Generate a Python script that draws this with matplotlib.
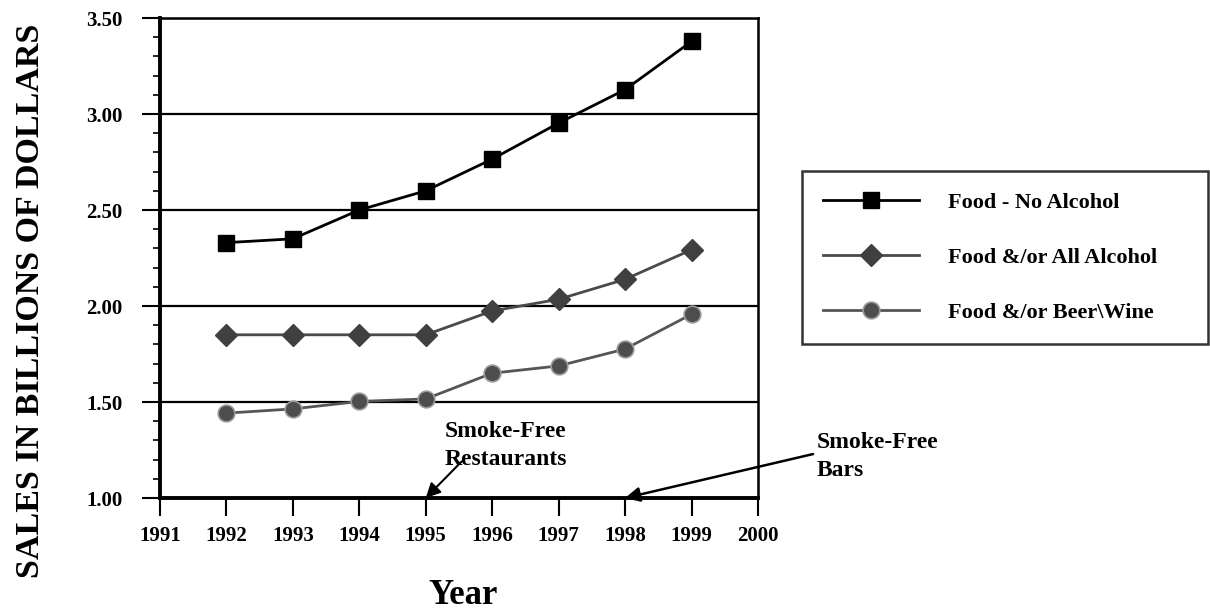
import numpy as np
import matplotlib
matplotlib.use("Agg")
import matplotlib.pyplot as plt
from matplotlib.ticker import MultipleLocator

plt.rcParams['font.family'] = ['Liberation Serif', 'DejaVu Serif']
plt.rcParams['font.weight'] = 'bold'

years = [1992, 1993, 1994, 1995, 1996, 1997, 1998, 1999]
no_alcohol = [2.33, 2.35, 2.50, 2.60, 2.765, 2.953, 3.127, 3.378]
all_alcohol = [1.85, 1.85, 1.85, 1.85, 1.974, 2.035, 2.139, 2.293]
beer_wine = [1.442, 1.464, 1.503, 1.516, 1.650, 1.688, 1.776, 1.957]
labels = ['Food - No Alcohol', 'Food &/or All Alcohol', 'Food &/or Beer\\Wine']

fig = plt.figure(figsize=(12.1, 6.13), dpi=100)
ax = fig.add_axes([0.1322, 0.1876, 0.4942, 0.783])

l1, = ax.plot(years, no_alcohol, color='black', lw=2, marker='s', ms=11.5,
              mfc='black', mec='black', zorder=5)
l2, = ax.plot(years, all_alcohol, color='#4a4a4a', lw=2, marker='D', ms=11,
              mfc='#404040', mec='#404040', zorder=5)
l3, = ax.plot(years, beer_wine, color='#555555', lw=2, marker='o', ms=12,
              mfc='#4d4d4d', mec='#9a9a9a', mew=1.2, zorder=5)

ax.set_xlim(1991, 2000)
ax.set_ylim(1.0, 3.5)
ax.set_xticks(range(1991, 2001))
ax.set_yticks([1.0, 1.5, 2.0, 2.5, 3.0, 3.5])
ax.set_yticklabels(['1.00', '1.50', '2.00', '2.50', '3.00', '3.50'])
ax.yaxis.set_minor_locator(MultipleLocator(0.1))
ax.grid(axis='y', which='major', color='black', lw=1.6)
ax.set_axisbelow(True)

ax.tick_params(axis='y', which='major', direction='out', length=13, width=1.5,
               labelsize=15, pad=14)
ax.tick_params(axis='y', which='minor', direction='out', length=5, width=1.2)
ax.tick_params(axis='x', which='major', direction='out', length=13, width=1.5,
               labelsize=15, pad=7)
for t in ax.get_xticklabels() + ax.get_yticklabels():
    t.set_fontweight('bold')

ax.spines['left'].set_linewidth(2.8)
ax.spines['bottom'].set_linewidth(2.8)
ax.spines['top'].set_linewidth(1.8)
ax.spines['right'].set_linewidth(1.8)

fig.text(463 / 1210, 1 - 604 / 613, 'Year', fontsize=25, fontweight='bold',
         ha='center', va='baseline')
fig.text(0.025, 0.51, 'SALES IN BILLIONS OF DOLLARS', rotation=90,
         fontsize=24.5, fontweight='bold', ha='center', va='center')

# annotations
ax.text(1995.29, 1.318, 'Smoke-Free', fontsize=17, fontweight='bold',
        va='baseline', ha='left')
ax.text(1995.29, 1.172, 'Restaurants', fontsize=17, fontweight='bold',
        va='baseline', ha='left')
ax.annotate('', xy=(1995, 1.0), xytext=(1995.54, 1.19),
            arrowprops=dict(arrowstyle='-|>', color='black', lw=1.5,
                            mutation_scale=22, shrinkA=0, shrinkB=0),
            annotation_clip=False)
ax.text(2000.88, 1.26, 'Smoke-Free', fontsize=17, fontweight='bold',
        va='baseline', ha='left', clip_on=False)
ax.text(2000.88, 1.115, 'Bars', fontsize=17, fontweight='bold',
        va='baseline', ha='left', clip_on=False)
ax.annotate('', xy=(1998, 1.0), xytext=(2000.83, 1.229),
            arrowprops=dict(arrowstyle='-|>', color='black', lw=1.8,
                            mutation_scale=22, shrinkA=0, shrinkB=0),
            annotation_clip=False)

leg = fig.legend([l1, l2, l3], labels, loc='upper left',
                 bbox_to_anchor=(0.6628, 0.40, 0.3355, 0.321), mode='expand',
                 frameon=True, fancybox=False, edgecolor='black',
                 fontsize=16, handlelength=4.3, handletextpad=1.3,
                 labelspacing=1.55, borderpad=0.95, borderaxespad=0)
leg.get_frame().set_linewidth(1.8)
for t in leg.get_texts():
    t.set_fontweight('bold')

fig.savefig('out.png', dpi=100)
